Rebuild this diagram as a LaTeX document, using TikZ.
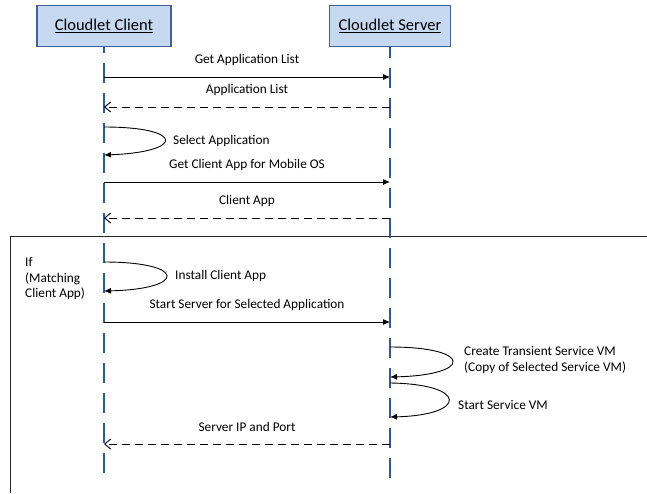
\documentclass[tikz,border=0pt]{standalone}
\usepackage{fontspec}
\setmainfont{Carlito}
\usetikzlibrary{arrows.meta}
\definecolor{boxfill}{HTML}{C6D9F1}
\definecolor{boxline}{HTML}{3F6196}
\definecolor{lifeblue}{HTML}{2E5A96}
\begin{document}
\begin{tikzpicture}[x=1pt,y=-1pt,
  actor/.style={draw=boxline,line width=1.6pt,fill=boxfill,minimum height=41pt,font=\fontsize{16.5}{19}\selectfont,inner sep=0pt},
  lifeline/.style={draw=lifeblue,line width=1.8pt,dash pattern=on 20pt off 10pt},
  call/.style={draw=black,line width=1pt,-{Latex[length=7pt,width=6pt]}},
  reply/.style={draw=black,line width=0.9pt,dash pattern=on 8pt off 5pt,-{Straight Barb[length=6pt,width=10pt]}},
  selfcall/.style={draw=black,line width=0.9pt,-{Latex[length=7pt,width=6pt]}},
  msg/.style={font=\fontsize{13.3}{15.8}\selectfont,inner sep=0pt},
  label/.style={msg,midway,yshift=17.5pt},
  frame/.style={draw=black!85,line width=1pt}]
\useasboundingbox (0,0) rectangle (647,493);
\fill[white] (0,0) rectangle (647,493);

% combined fragment frame (runs off the right and bottom edges)
\draw[frame] (647,236) -- (10,236) -- (10,493);
\node[msg,align=left,anchor=north west] (cond) at (25,257) {If\\(Matching\\Client App)};

% participants
\node[actor,minimum width=134pt] (client) at (104,26) {\underline{Cloudlet Client}};
\node[actor,minimum width=121pt] (server) at (390,26) {\underline{Cloudlet Server}};

% lifelines
\coordinate (cEnd) at (104,482);
\coordinate (sEnd) at (390,483);
\draw[lifeline,dash phase=14pt] (client.south) -- (cEnd);
\draw[lifeline,dash phase=9pt] (server.south) -- (sEnd);

% anchor points on the lifelines
\foreach \n/\y in {1/77,2/107,4/182,5/218,7/322,10/444}{
  \coordinate (c\n) at (104,\y);
  \coordinate (s\n) at (390,\y);
}
\coordinate (c3a) at (104,127); \coordinate (c3b) at (104,155);
\coordinate (c6a) at (104,262); \coordinate (c6b) at (104,291);
\coordinate (s8a) at (390,347); \coordinate (s8b) at (390,377);
\coordinate (s9a) at (390,383); \coordinate (s9b) at (390,417);

% messages
\draw[call] (c1) -- (s1) node[label] (m1) {Get Application List};
\draw[reply] (s2) -- (c2) node[label] (m2) {Application List};
\draw[selfcall] (c3a) .. controls (185,127) and (185,152) .. (c3b);
\node[msg,anchor=west] (m3) at (173,141) {Select Application};
\draw[call] (c4) -- (s4) node[label] (m4) {Get Client App for Mobile OS};
\draw[reply] (s5) -- (c5) node[label] (m5) {Client App};
\draw[selfcall] (c6a) .. controls (187,262) and (187,289) .. (c6b);
\node[msg,anchor=west] (m6) at (175,276) {Install Client App};
\draw[call] (c7) -- (s7) node[label] (m7) {Start Server for Selected Application};
\draw[selfcall] (s8a) .. controls (473,347) and (473,375) .. (s8b);
\node[msg,anchor=west,align=left] (m8) at (464,360) {Create Transient Service VM\\(Copy of Selected Service VM)};
\draw[selfcall] (s9a) .. controls (468,384) and (468,415) .. (s9b);
\node[msg,anchor=west] (m9) at (458,405) {Start Service VM};
\draw[reply] (s10) -- (c10) node[label] (m10) {Server IP and Port};
\end{tikzpicture}
\end{document}
